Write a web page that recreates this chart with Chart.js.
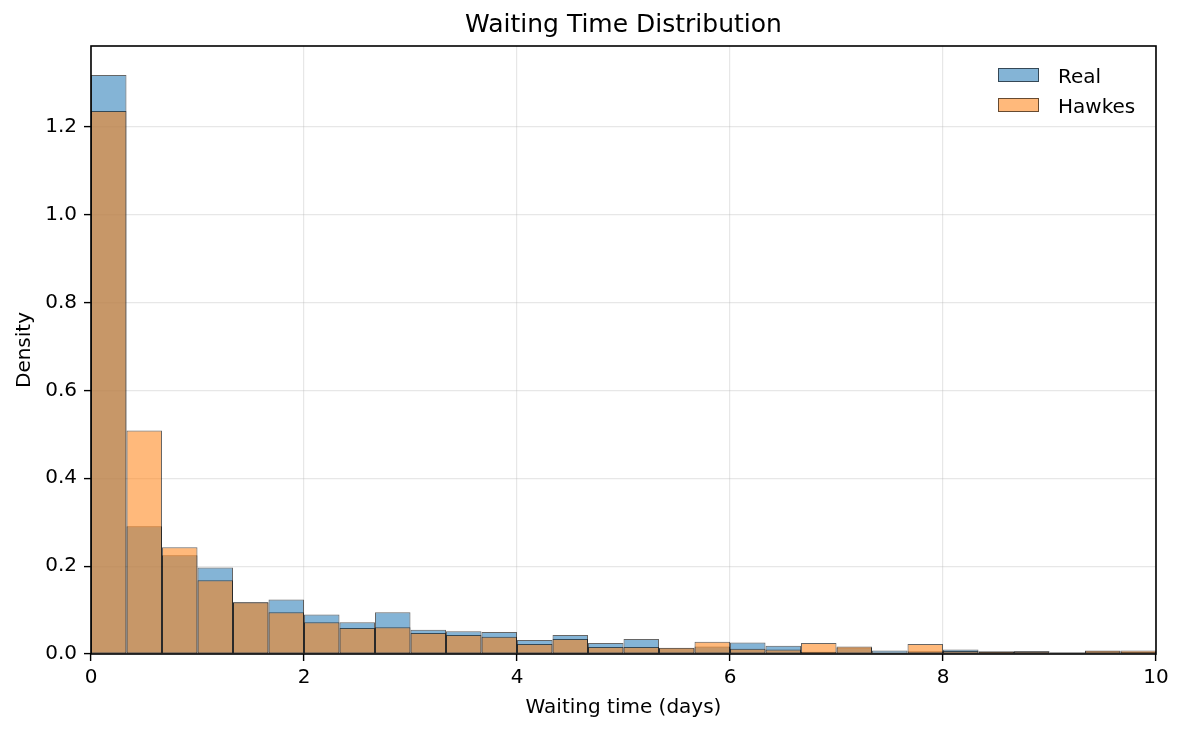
<!DOCTYPE html>
<html>
<head>
<meta charset="utf-8">
<script src="https://cdn.jsdelivr.net/npm/chart.js@4/dist/chart.umd.min.js"></script>
<style>
  html, body { margin: 0; padding: 0; background: #fff; }
  #wrap { width: 1184px; height: 734px; position: relative; }
</style>
</head>
<body>
<div id="wrap"><canvas id="c"></canvas></div>
<script>
// ---- data ----
const chartTitle = "Waiting Time Distribution";
const xLabel = "Waiting time (days)";
const yLabel = "Density";
const binCount = 30;
const binMin = 0;
const binMax = 10;
const seriesNames = ["Real", "Hawkes"];
const realDensity = [
  1.318, 0.291, 0.225, 0.197, 0.118, 0.124, 0.090, 0.072, 0.095, 0.055,
  0.052, 0.050, 0.032, 0.043, 0.025, 0.034, 0.013, 0.017, 0.026, 0.019,
  0.005, 0.015, 0.008, 0.006, 0.010, 0.005, 0.006, 0.004, 0.006, 0.005
];
const hawkesDensity = [
  1.236, 0.509, 0.243, 0.168, 0.118, 0.095, 0.072, 0.059, 0.061, 0.048,
  0.043, 0.039, 0.023, 0.034, 0.016, 0.016, 0.014, 0.028, 0.012, 0.010,
  0.025, 0.017, 0.003, 0.023, 0.007, 0.006, 0.006, 0.003, 0.008, 0.008
];
const xTicks = [0, 2, 4, 6, 8, 10];
const yTicks = [0.0, 0.2, 0.4, 0.6, 0.8, 1.0, 1.2];

// bin centres (category positions)
const binWidth = (binMax - binMin) / binCount;
const binCenters = Array.from({length: binCount}, (_, i) => binMin + (i + 0.5) * binWidth);

const FONT = "'DejaVu Sans', 'Liberation Sans', sans-serif";
const colors = {
  Real:   { fill: 'rgba(31,119,180,0.55)',  edge: 'rgba(0,0,0,0.6)' },
  Hawkes: { fill: 'rgba(255,127,14,0.55)',  edge: 'rgba(0,0,0,0.6)' }
};

function toPoints(arr) { return arr.map((v, i) => ({x: binCenters[i], y: v})); }

const overlayPlugin = {
  id: 'overlay',
  afterDraw(chart) {
    const ctx = chart.ctx;
    const ca = chart.chartArea;
    ctx.save();
    // axes frame
    ctx.strokeStyle = '#000';
    ctx.lineWidth = 1.6;
    ctx.strokeRect(ca.left, ca.top, ca.right - ca.left, ca.bottom - ca.top);
    // title
    ctx.fillStyle = '#000';
    ctx.font = "25px " + FONT;
    ctx.textAlign = 'center';
    ctx.textBaseline = 'alphabetic';
    ctx.fillText(chartTitle, (ca.left + ca.right) / 2, 32);
    // legend
    const rows = [82.5, 112.5];
    ctx.font = "20px " + FONT;
    ctx.textAlign = 'left';
    chart.data.datasets.forEach((ds, i) => {
      const yb = rows[i];
      const px = 998, pw = 41, ph = 14;
      const py = yb - 14.5;
      ctx.fillStyle = '#fff';
      ctx.fillRect(px, py, pw, ph);
      ctx.fillStyle = ds.backgroundColor;
      ctx.fillRect(px, py, pw, ph);
      ctx.strokeStyle = ds.borderColor;
      ctx.lineWidth = 1;
      ctx.strokeRect(px + 0.5, py + 0.5, pw - 1, ph - 1);
      ctx.fillStyle = '#000';
      ctx.fillText(ds.label, 1058, yb);
    });
    ctx.restore();
  }
};

const gridColor = 'rgba(176,176,176,0.3)';

new Chart(document.getElementById('c'), {
  type: 'bar',
  data: {
    datasets: [
      {
        label: seriesNames[0],
        data: toPoints(realDensity),
        backgroundColor: colors.Real.fill,
        borderColor: colors.Real.edge,
        borderWidth: 1,
        borderSkipped: false,
        inflateAmount: 0,
        order: 2,
        grouped: false,
        barPercentage: 1,
        categoryPercentage: 1
      },
      {
        label: seriesNames[1],
        data: toPoints(hawkesDensity),
        backgroundColor: colors.Hawkes.fill,
        borderColor: colors.Hawkes.edge,
        borderWidth: 1,
        borderSkipped: false,
        inflateAmount: 0,
        order: 1,
        grouped: false,
        barPercentage: 1,
        categoryPercentage: 1
      }
    ]
  },
  options: {
    responsive: true,
    maintainAspectRatio: false,
    animation: false,
    devicePixelRatio: 1,
    layout: { padding: { top: 46, right: 28, bottom: 0, left: 0 } },
    plugins: {
      legend: { display: false },
      title: { display: false },
      tooltip: { enabled: false }
    },
    scales: {
      x: {
        type: 'linear',
        min: binMin,
        max: binMax,
        offset: false,
        z: 1,
        afterFit(s) { s.height = 80; },
        afterBuildTicks(s) { s.ticks = xTicks.map(v => ({value: v})); },
        border: { display: false },
        grid: {
          offset: false,
          color: gridColor,
          lineWidth: 1.2,
          tickColor: '#000',
          tickLength: 7,
          tickWidth: 1.4,
          drawTicks: true
        },
        ticks: {
          color: '#000',
          padding: 5,
          maxRotation: 0,
          autoSkip: false,
          font: { family: FONT, size: 20 },
          callback: v => String(v)
        },
        title: {
          display: true,
          text: xLabel,
          color: '#000',
          font: { family: FONT, size: 20 },
          padding: { top: 0, bottom: 14 }
        }
      },
      y: {
        type: 'linear',
        min: 0,
        max: 1.384,
        stacked: false,
        z: 1,
        afterFit(s) { s.width = 91; },
        afterBuildTicks(s) { s.ticks = yTicks.map(v => ({value: v})); },
        border: { display: false },
        grid: {
          offset: false,
          color: gridColor,
          lineWidth: 1.2,
          tickColor: '#000',
          tickLength: 7,
          tickWidth: 1.4,
          drawTicks: true
        },
        ticks: {
          color: '#000',
          padding: 7,
          autoSkip: false,
          font: { family: FONT, size: 20 },
          callback: v => Number(v).toFixed(1)
        },
        title: {
          display: true,
          text: yLabel,
          color: '#000',
          font: { family: FONT, size: 20 },
          padding: { top: 13, bottom: 0 }
        }
      }
    }
  },
  plugins: [overlayPlugin]
});
</script>
</body>
</html>
